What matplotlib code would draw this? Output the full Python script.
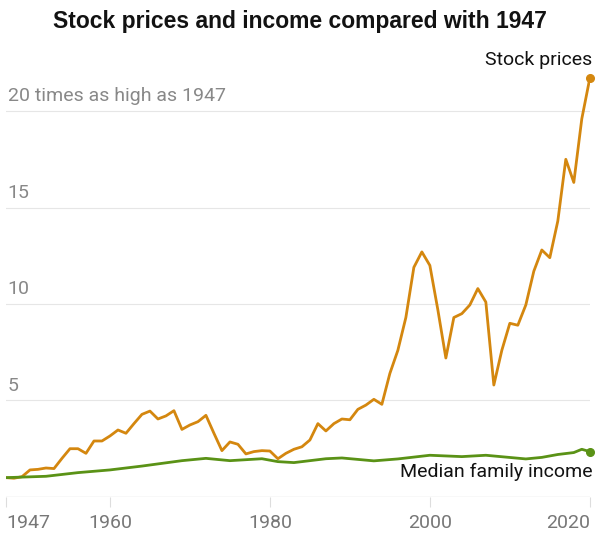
import matplotlib
matplotlib.use("Agg")
import matplotlib.pyplot as plt

stock_years = list(range(1947, 2021))
stock_vals = [1.0, 0.97, 1.05, 1.4, 1.43, 1.5, 1.47, 2.0, 2.5, 2.5,
              2.26, 2.9, 2.9, 3.16, 3.47, 3.3, 3.8, 4.28, 4.45, 4.04,
              4.2, 4.47, 3.5, 3.73, 3.9, 4.23, 3.3, 2.4, 2.85, 2.73,
              2.23, 2.35, 2.4, 2.38, 1.98, 2.26, 2.47, 2.6, 2.95, 3.8,
              3.42, 3.8, 4.04, 4.0, 4.54, 4.76, 5.06, 4.8, 6.4, 7.6,
              9.3, 11.9, 12.7, 12.0, 9.7, 7.2, 9.3, 9.5, 9.95, 10.8,
              10.1, 5.8, 7.6, 9.0, 8.9, 9.95, 11.7, 12.8, 12.4, 14.3,
              17.5, 16.3, 19.6, 21.7]
inc_years = [1947, 1952, 1956, 1960, 1964, 1969, 1972, 1975, 1979, 1981,
             1983, 1987, 1989, 1993, 1996, 2000, 2004, 2007, 2012, 2014,
             2016, 2018, 2019, 2020]
inc_vals = [1.0, 1.07, 1.26, 1.4, 1.6, 1.88, 2.0, 1.88, 1.98, 1.83,
            1.78, 1.98, 2.02, 1.87, 1.97, 2.16, 2.09, 2.16, 1.97, 2.05,
            2.2, 2.3, 2.47, 2.35]
xticks = [1947, 1960, 1980, 2000, 2020]
yticks = [5, 10, 15, 20]
ylabels = ["5", "10", "15", "20 times as high as 1947"]

plt.rcParams['font.family'] = ['Roboto', 'DejaVu Sans']
orange = "#D4870F"
green = "#5A9216"

fig = plt.figure(figsize=(6, 5.54), dpi=100)
ax = fig.add_axes([0.01, 0.103, 0.973, 0.801])
ax.set_xlim(1947, 2020)
ax.set_ylim(0, 23)
for s in ax.spines.values():
    s.set_visible(False)
for y in yticks:
    ax.axhline(y, color="#e6e6e6", lw=0.8, zorder=0)
ax.axhline(0, color="#dddddd", lw=1, zorder=0)
for y, lab in zip(yticks, ylabels):
    ax.text(1947 + 0.2, y + 0.3, lab, fontsize=14, color="#888888",
            ha="left", va="bottom")

ax.plot(stock_years, stock_vals, color=orange, lw=2.0, zorder=3)
ax.plot(inc_years, inc_vals, color=green, lw=2.0, zorder=3)
ax.plot(stock_years[-1], stock_vals[-1], "o", color=orange, ms=5.5, zorder=4, clip_on=False)
ax.plot(inc_years[-1], inc_vals[-1], "o", color=green, ms=5.5, zorder=4, clip_on=False)

ax.text(2020.3, stock_vals[-1] + 0.5, "Stock prices", fontsize=14, ha="right",
        va="bottom", color="#121212")
ax.text(2020.3, inc_vals[-1] - 0.6, "Median family income", fontsize=14, ha="right",
        va="top", color="#121212")

ax.set_xticks(xticks)
ax.set_xticklabels([str(t) for t in xticks])
ax.set_yticks([])
ax.tick_params(axis="x", length=7, color="#dddddd", labelsize=14,
               labelcolor="#777777", pad=5)
labs = ax.get_xticklabels()
labs[0].set_ha("left")
labs[-1].set_ha("right")

fig.text(0.5, 0.962, "Stock prices and income compared with 1947", ha="center",
         va="center", fontsize=16.5, fontweight="bold", color="#121212",
         family=["Liberation Sans", "DejaVu Sans"])
fig.savefig("out.png", dpi=100)
